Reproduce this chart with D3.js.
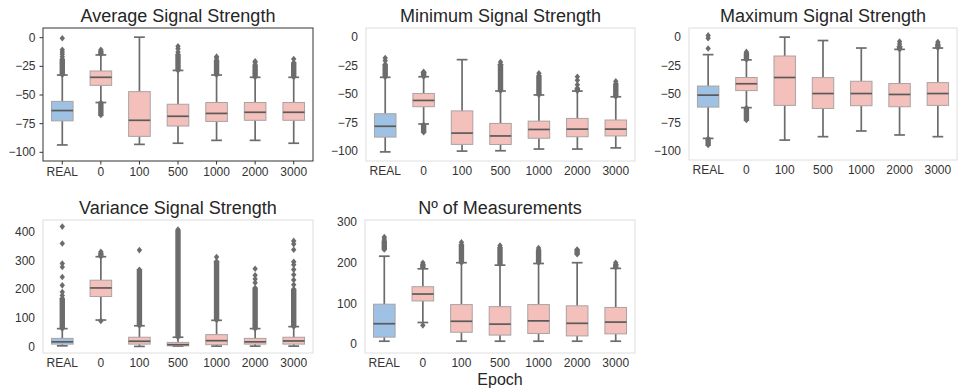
<!DOCTYPE html>
<html>
<head>
<meta charset="utf-8">
<script src="https://cdn.jsdelivr.net/npm/d3@7"></script>
<style>
  body { margin: 0; background: #fff; }
  text { font-family: "Liberation Sans", Arial, sans-serif; }
</style>
</head>
<body>
<svg id="chart" width="962" height="390"></svg>
<script>
// epochs on the x axis
const epochs = ['REAL', '0', '100', '500', '1000', '2000', '3000'];

// box stats per epoch: [lowWhisker, q1, median, q3, highWhisker]
const avgStats = [[-94, -73, -64, -56, -33], [-57, -42, -35, -29.5, -15.5], [-93.5, -86.5, -72.5, -47.5, 0],
  [-92.5, -77.5, -69, -58.5, -29], [-90, -73.5, -66.5, -57, -33], [-90, -72.5, -65.5, -57, -35], [-92.5, -72.5, -65.5, -57, -35]];
const minStats = [[-101, -88, -78.5, -67.5, -35.5], [-76.5, -61.3, -55.8, -49.7, -35], [-100.3, -94.4, -84.5, -65, -20],
  [-100, -94.5, -87, -76, -47.5], [-98.5, -89, -81.3, -74, -51], [-98.5, -87.7, -81, -71.6, -47.6], [-97.5, -87, -81, -73, -52.6]];
const maxStats = [[-89, -61.5, -51, -43, -15.4], [-62, -47, -41, -35.5, -20], [-90.5, -60, -35.5, -16.6, 0],
  [-87.5, -62.7, -49.6, -35.6, -3], [-82.5, -60.3, -49.6, -38.8, -9.6], [-86, -61.2, -50.4, -40.8, -10.8], [-87.5, -60, -49.6, -40, -9.6]];
const varStats = [[2, 8, 16, 28, 62], [92, 174, 204, 231, 313], [0, 8, 18, 32, 72],
  [1, 2, 6, 14, 32], [1, 6, 20, 41, 91], [1, 8, 16, 28, 62], [1, 8, 19, 32, 69]];
const cntStats = [[7, 17, 50, 98, 216], [53, 106, 123, 141, 185], [7, 29, 56, 97, 200],
  [7, 22, 49, 92, 194], [7, 26, 57, 97, 198], [7, 20, 51, 94, 200], [7, 25, 54, 90, 186]];

// single outliers per epoch
const avgFliers = [[-1, -11, -13, -15, -17], [-11], [], [-8, -10, -13], [-17, -18], [-21, -22], [-19]];
const minFliers = [[-18.5, -21], [-30.7], [], [-22], [-32], [-35, -38, -42], [-39]];
const maxFliers = [[1.5, -1, -10], [-13], [], [], [], [-3.8, -6], [-4.4]];
const varFliers = [[418, 359, 289, 277, 242, 213, 190, 178], [330, 89], [336], [408], [312], [271, 248, 235, 222], [368, 357, 337, 295, 285, 268, 250, 232, 215]];
const cntFliers = [[263, 258], [200, 46], [250], [242], [236], [], [200]];

// dense runs of outliers per epoch: [from, to]
const avgRuns = [[[-33, -19]], [[-15, -12], [-68, -57]], [], [[-29, -15]], [[-33, -20]], [[-35, -24]], [[-35, -22]]];
const minRuns = [[[-35.5, -24]], [[-35, -31], [-84, -77]], [], [[-47.5, -24]], [[-51, -34]], [[-47.6, -45]], [[-52.6, -41]]];
const maxRuns = [[[-95, -89]], [[-20, -14], [-73, -62]], [], [], [], [[-10.8, -8]], [[-9.6, -6]]];
const varRuns = [[[62, 168]], [[313, 326]], [[72, 268]], [[32, 404]], [[91, 297]], [[62, 205]], [[69, 200]]];
const cntRuns = [[[232, 254]], [[188, 196]], [[200, 245]], [[196, 238]], [[200, 232]], [[220, 233]], [[188, 196]]];

const minus = v => String(v).replace('-', '\u2212');

const panels = [
  {title: 'Average Signal Strength', stats: avgStats, fliers: avgFliers, runs: avgRuns,
   x: 43, y: 28, w: 270, h: 133, domain: [-108, 8], ticks: [0, -25, -50, -75, -100], dark: true},
  {title: 'Minimum Signal Strength', stats: minStats, fliers: minFliers, runs: minRuns,
   x: 366, y: 28, w: 269, h: 133, domain: [-109, 7.8], ticks: [0, -25, -50, -75, -100]},
  {title: 'Maximum Signal Strength', stats: maxStats, fliers: maxFliers, runs: maxRuns,
   x: 689, y: 28, w: 268, h: 132, domain: [-108, 8], ticks: [0, -25, -50, -75, -100]},
  {title: 'Variance Signal Strength', stats: varStats, fliers: varFliers, runs: varRuns,
   x: 43, y: 220, w: 270, h: 133, domain: [-23, 441], ticks: [0, 100, 200, 300, 400]},
  {title: 'N\u00BA of Measurements', stats: cntStats, fliers: cntFliers, runs: cntRuns,
   x: 365, y: 220, w: 270, h: 133, domain: [-22, 305], ticks: [0, 100, 200, 300]}
];

const colors = epochs.map((d, i) => i === 0 ? '#9fc2e4' : '#f4c0bb');
const lineColor = '#6c6c6c';

const svg = d3.select('#chart');

panels.forEach(p => {
  const g = svg.append('g');

  const x = d3.scaleBand().domain(epochs).range([p.x, p.x + p.w]);
  const y = d3.scaleLinear().domain(p.domain).range([p.y + p.h, p.y]);
  const bw = x.bandwidth() * 0.56;
  const cx = d => x(d) + x.bandwidth() / 2;

  // y axis
  const yAxis = d3.axisLeft(y).tickValues(p.ticks).tickFormat(minus)
    .tickSize(p.dark ? 3.5 : 0).tickPadding(p.dark ? 4 : 8);
  const gy = g.append('g').attr('transform', `translate(${p.x},0)`).call(yAxis);
  gy.select('.domain').remove();

  // x axis
  const xAxis = d3.axisBottom(x).tickSize(p.dark ? 3.5 : 0).tickPadding(p.dark ? 2.5 : 5);
  const gx = g.append('g').attr('transform', `translate(0,${p.y + p.h})`).call(xAxis);
  gx.select('.domain').remove();

  g.selectAll('.tick text').attr('font-size', 12).attr('fill', '#333')
    .attr('font-family', '"Liberation Sans", Arial, sans-serif');
  g.selectAll('.tick line').attr('stroke', '#333');

  // frame
  g.append('rect')
    .attr('x', p.x).attr('y', p.y).attr('width', p.w).attr('height', p.h)
    .attr('fill', 'none')
    .attr('stroke', p.dark ? '#333' : '#dedede')
    .attr('stroke-width', 1);

  g.append('text')
    .attr('x', p.x + p.w / 2).attr('y', p.y - 6.5)
    .attr('text-anchor', 'middle')
    .attr('font-size', 18).attr('fill', '#262626')
    .text(p.title);

  const boxes = g.selectAll('.box').data(epochs).join('g').attr('class', 'box');

  boxes.each(function(d, i) {
    const s = p.stats[i];
    const b = d3.select(this);
    const c = cx(d);
    // whiskers and caps
    b.append('line').attr('x1', c).attr('x2', c).attr('y1', y(s[0])).attr('y2', y(s[1]))
      .attr('stroke', lineColor).attr('stroke-width', 1.7);
    b.append('line').attr('x1', c).attr('x2', c).attr('y1', y(s[3])).attr('y2', y(s[4]))
      .attr('stroke', lineColor).attr('stroke-width', 1.7);
    [s[0], s[4]].forEach(v => {
      b.append('line').attr('x1', c - bw / 4).attr('x2', c + bw / 4).attr('y1', y(v)).attr('y2', y(v))
        .attr('stroke', lineColor).attr('stroke-width', 1.7);
    });
    // box and median
    b.append('rect')
      .attr('x', c - bw / 2).attr('width', bw)
      .attr('y', y(s[3])).attr('height', y(s[1]) - y(s[3]))
      .attr('fill', colors[i]).attr('stroke', '#a9a3a3').attr('stroke-width', 1);
    b.append('line').attr('x1', c - bw / 2).attr('x2', c + bw / 2).attr('y1', y(s[2])).attr('y2', y(s[2]))
      .attr('stroke', '#5a5a5a').attr('stroke-width', 1.7);

    // dense outlier runs
    p.runs[i].forEach(r => {
      const y0 = y(Math.max(r[0], r[1])), y1 = y(Math.min(r[0], r[1]));
      b.append('path')
        .attr('d', `M${c},${y0 - 3}L${c + 2.7},${y0}L${c + 2.7},${y1}L${c},${y1 + 3}L${c - 2.7},${y1}L${c - 2.7},${y0}Z`)
        .attr('fill', lineColor);
    });
    // single outliers as thin diamonds
    p.fliers[i].forEach(v => {
      const yy = y(v);
      b.append('path')
        .attr('d', `M${c},${yy - 3.3}L${c + 2.7},${yy}L${c},${yy + 3.3}L${c - 2.7},${yy}Z`)
        .attr('fill', lineColor);
    });
  });
});

svg.append('text')
  .attr('x', 500).attr('y', 385)
  .attr('text-anchor', 'middle')
  .attr('font-size', 16).attr('fill', '#262626')
  .text('Epoch');
</script>
</body>
</html>
